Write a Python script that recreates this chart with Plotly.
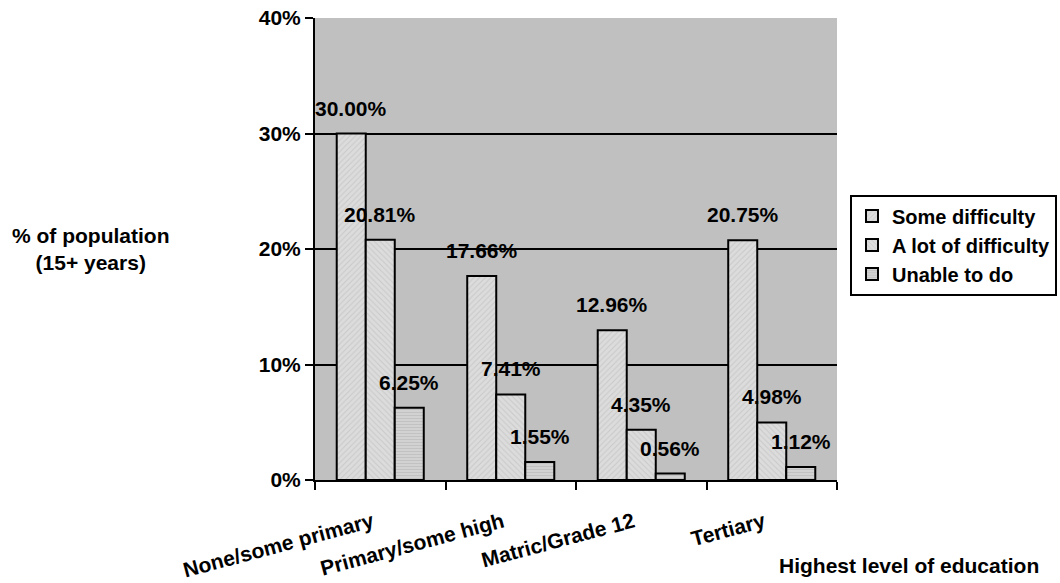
import plotly.graph_objects as go

# Share of population aged 15+ reporting reading difficulty, by education level
categories = ["None/some primary", "Primary/some high", "Matric/Grade 12", "Tertiary"]
some_difficulty = [30.00, 17.66, 12.96, 20.75]
lot_of_difficulty = [20.81, 7.41, 4.35, 4.98]
unable_to_do = [6.25, 1.55, 0.56, 1.12]
y_ticks = [0, 10, 20, 30, 40]

series = [
    ("Some difficulty", some_difficulty, dict(shape="/", fgcolor="#b4b4b4", bgcolor="#dcdcdc", size=4, solidity=0.25)),
    ("A lot of difficulty", lot_of_difficulty, dict(shape="\\", fgcolor="#b4b4b4", bgcolor="#dcdcdc", size=4, solidity=0.25)),
    ("Unable to do", unable_to_do, dict(shape="-", fgcolor="#b0b0b0", bgcolor="#d2d2d2", size=3, solidity=0.3)),
]

FONT = "Liberation Sans, Arial, sans-serif"
FS = 21
BARGAP = 0.333
positions = list(range(len(categories)))


def bold(size=FS):
    return dict(family=FONT, size=size, color="black", weight="bold")


fig = go.Figure()
for name, values, pattern in series:
    fig.add_trace(go.Bar(
        x=positions,
        y=values,
        name=name,
        marker=dict(color=pattern["bgcolor"], pattern=pattern,
                    line=dict(color="black", width=2)),
    ))

# value labels above each bar
bar_w = (1 - BARGAP) / len(series)
annotations = []
for k, (name, values, _) in enumerate(series):
    off = (k - (len(series) - 1) / 2) * bar_w
    for i, v in zip(positions, values):
        annotations.append(dict(
            x=i + off, y=v, xref="x", yref="y",
            text=f"{v:.2f}%", showarrow=False,
            xanchor="center", yanchor="bottom", yshift=12,
            font=bold(),
        ))

annotations.append(dict(
    x=-0.431, y=0.5, xref="paper", yref="paper",
    text="% of population<br>(15+ years)", showarrow=False,
    xanchor="center", yanchor="middle", align="center",
    font=bold(),
))
annotations.append(dict(
    x=1.138, y=-0.184, xref="paper", yref="paper",
    text="Highest level of education", showarrow=False,
    xanchor="center", yanchor="middle",
    font=bold(),
))

fig.update_layout(
    width=1060, height=583,
    margin=dict(l=315, r=223, t=18, b=103, autoexpand=False),
    paper_bgcolor="white",
    plot_bgcolor="#c0c0c0",
    barmode="group",
    bargap=BARGAP,
    bargroupgap=0,
    font=bold(),
    annotations=annotations,
    legend=dict(
        xref="container", yref="container",
        x=850 / 1060, y=1 - 245 / 583, xanchor="left", yanchor="middle",
        bgcolor="white", bordercolor="black", borderwidth=2,
        font=bold(20),
        tracegroupgap=0,
    ),
    xaxis=dict(
        range=[-0.5, len(categories) - 0.5],
        tickmode="array", tickvals=positions, ticktext=categories,
        tickangle=-15, ticks="", showgrid=False, zeroline=False,
        showline=True, linecolor="black", linewidth=2,
        tickfont=bold(),
        ticklabelstandoff=20, ticklabelshift=-8,
        automargin=False,
        minor=dict(tickmode="array",
                   tickvals=[p - 0.5 for p in positions] + [positions[-1] + 0.5],
                   ticks="outside", ticklen=8, tickwidth=2, tickcolor="black",
                   showgrid=False),
    ),
    yaxis=dict(
        range=[0, 40],
        tickmode="array", tickvals=y_ticks, ticktext=[f"{t}%" for t in y_ticks],
        ticks="outside", ticklen=8, tickwidth=2, tickcolor="black",
        showgrid=True, gridcolor="black", gridwidth=2, zeroline=False,
        showline=True, linecolor="black", linewidth=2,
        tickfont=bold(),
        automargin=False,
    ),
)

fig.write_html("out.html")
